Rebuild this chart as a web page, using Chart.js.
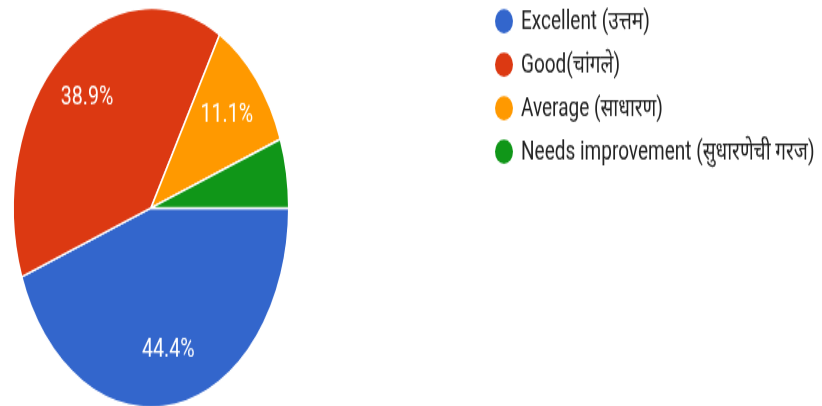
<!DOCTYPE html>
<html>
<head>
<meta charset="utf-8">
<script src="https://cdn.jsdelivr.net/npm/chart.js@4.4.0/dist/chart.umd.min.js"></script>
<style>
  html, body { margin: 0; padding: 0; background: #ffffff; overflow: hidden; width: 822px; height: 406px; }
  #wrap { position: absolute; left: 0; top: 0; width: 822px; height: 290px; transform: scaleY(1.45); transform-origin: 0 0; }
</style>
</head>
<body>
<div id="wrap"><canvas id="c" width="822" height="290"></canvas></div>
<script>
const categories = ['Excellent (उत्तम)', 'Good(चांगले)', 'Average (साधारण)', 'Needs improvement (सुधारणेची गरज)'];
const percentValues = [44.4, 38.9, 11.1, 5.6];
const sliceColors = ['#3366CC', '#DC3912', '#FF9900', '#109618'];

const FONT = "Roboto, 'Noto Sans', 'Noto Sans Devanagari', 'Liberation Sans', sans-serif";
const TEXT_SQUASH = 0.93;

const sliceLabels = {
  id: 'sliceLabels',
  afterDatasetsDraw(chart) {
    const ctx = chart.ctx;
    const meta = chart.getDatasetMeta(0);
    const data = chart.data.datasets[0].data;
    const total = data.reduce((a, b) => a + b, 0);
    ctx.save();
    ctx.fillStyle = '#ffffff';
    ctx.font = '19.6px ' + FONT;
    ctx.textAlign = 'center';
    ctx.textBaseline = 'middle';
    meta.data.forEach((arc, i) => {
      const pct = data[i] / total * 100;
      if (pct < 6) return;
      const p = arc.getProps(['x', 'y', 'startAngle', 'endAngle', 'outerRadius'], true);
      const mid = (p.startAngle + p.endAngle) / 2;
      const d = p.outerRadius * 0.72;
      const x = p.x + Math.cos(mid) * d;
      const y = p.y + Math.sin(mid) * d;
      ctx.save();
      ctx.translate(x, y);
      ctx.scale(1, TEXT_SQUASH);
      ctx.fillText(pct.toFixed(1) + '%', 0, 0);
      ctx.restore();
    });
    ctx.restore();
  }
};

const sideLegend = {
  id: 'sideLegend',
  afterDraw(chart) {
    const ctx = chart.ctx;
    const labels = chart.data.labels;
    const colors = chart.data.datasets[0].backgroundColor;
    ctx.save();
    ctx.font = '19px ' + FONT;
    ctx.textAlign = 'left';
    ctx.textBaseline = 'middle';
    labels.forEach((lab, i) => {
      const cy = 14.6 + i * 30;
      ctx.save();
      ctx.translate(0, cy);
      ctx.scale(1, TEXT_SQUASH);
      ctx.beginPath();
      ctx.arc(504, 0, 9, 0, Math.PI * 2);
      ctx.fillStyle = colors[i];
      ctx.fill();
      ctx.fillStyle = '#222222';
      ctx.fillText(lab, 521, 1);
      ctx.restore();
    });
    ctx.restore();
  }
};

new Chart(document.getElementById('c'), {
  type: 'pie',
  data: {
    labels: categories,
    datasets: [{
      data: percentValues,
      backgroundColor: sliceColors,
      borderColor: '#ffffff',
      borderWidth: 1.5
    }]
  },
  options: {
    responsive: false,
    devicePixelRatio: 1,
    animation: false,
    rotation: 90,
    layout: { padding: { left: 12.5, right: 532.5, top: 4.9, bottom: 8.1 } },
    plugins: {
      legend: { display: false },
      tooltip: { enabled: false }
    }
  },
  plugins: [sliceLabels, sideLegend]
});
</script>
</body>
</html>
